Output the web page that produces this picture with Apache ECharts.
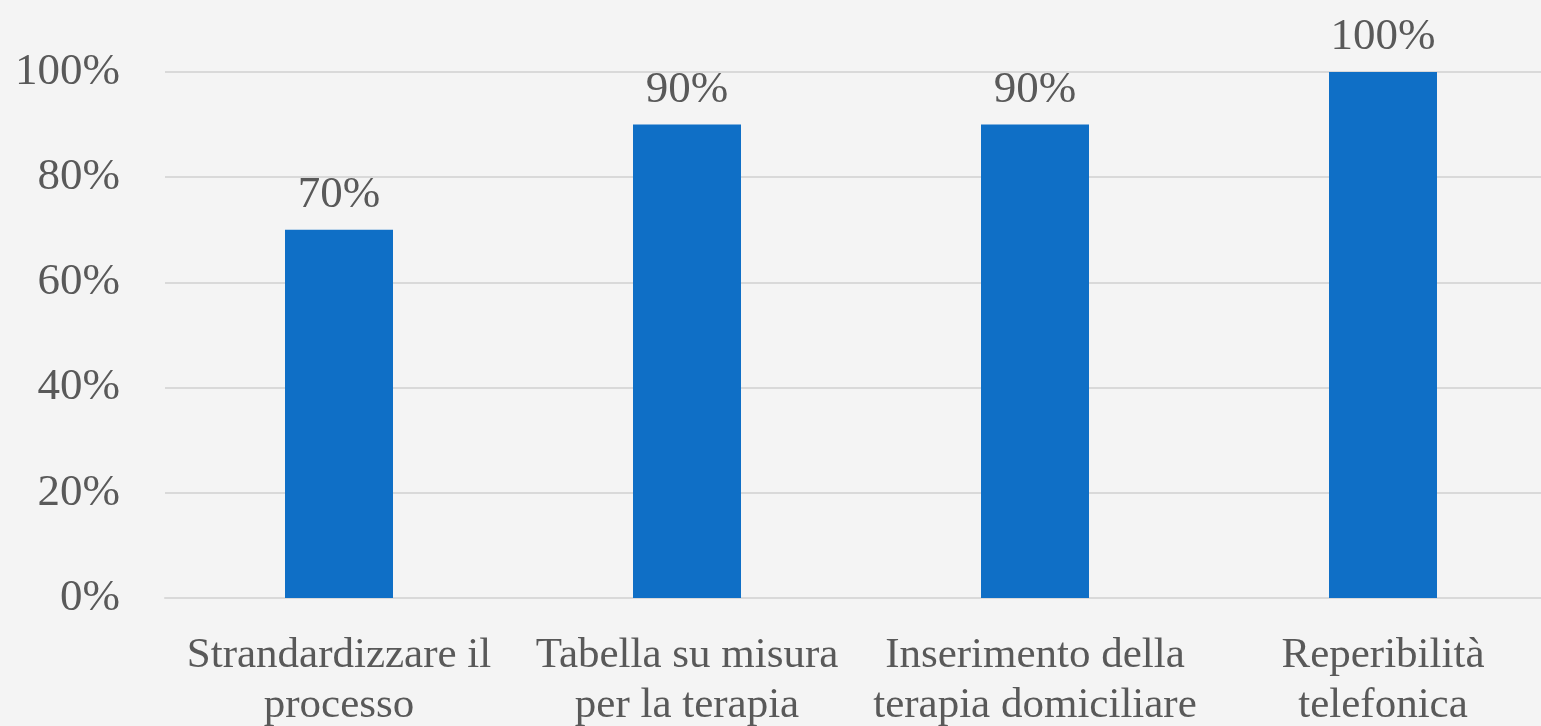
<!DOCTYPE html>
<html><head><meta charset="utf-8">
<script src="https://cdn.jsdelivr.net/npm/echarts@6/dist/echarts.min.js"></script>
<style>html,body{margin:0;padding:0;background:#f4f4f4;}#c{width:1541px;height:726px;}</style>
</head><body><div id="c"></div>
<script>
const categories = ["Strandardizzare il\nprocesso", "Tabella su misura\nper la terapia", "Inserimento della\nterapia domiciliare", "Reperibilità\ntelefonica"];
const values = [70, 90, 90, 100];
const yTicks = [0, 20, 40, 60, 80, 100];
const FONT = "Liberation Serif";
const chart = echarts.init(document.getElementById('c'));
chart.setOption({
  backgroundColor: '#f4f4f4',
  animation: false,
  grid: {left: 165, right: -16, top: 72, bottom: 128, containLabel: false, outerBoundsMode: 'none'},
  xAxis: {
    type: 'category', data: categories,
    axisLine: {lineStyle: {color: '#d9d9d9', width: 2}},
    axisTick: {show: false},
    axisLabel: {color: '#595959', fontFamily: FONT, fontSize: 43, lineHeight: 50, margin: 33, interval: 0}
  },
  yAxis: {
    type: 'value', min: yTicks[0], max: yTicks[yTicks.length-1], interval: 20,
    axisLine: {show: false}, axisTick: {show: false},
    splitLine: {lineStyle: {color: '#d9d9d9', width: 2}},
    axisLabel: {color: '#595959', fontFamily: FONT, fontSize: 45, margin: 45, formatter: v => v + '%'}
  },
  series: [{
    type: 'bar', data: values, barWidth: 108,
    itemStyle: {color: '#0f6fc6'},
    label: {show: true, position: 'top', distance: 12, color: '#595959', fontFamily: FONT, fontSize: 45, formatter: p => p.value + '%'}
  }]
});
</script></body></html>
